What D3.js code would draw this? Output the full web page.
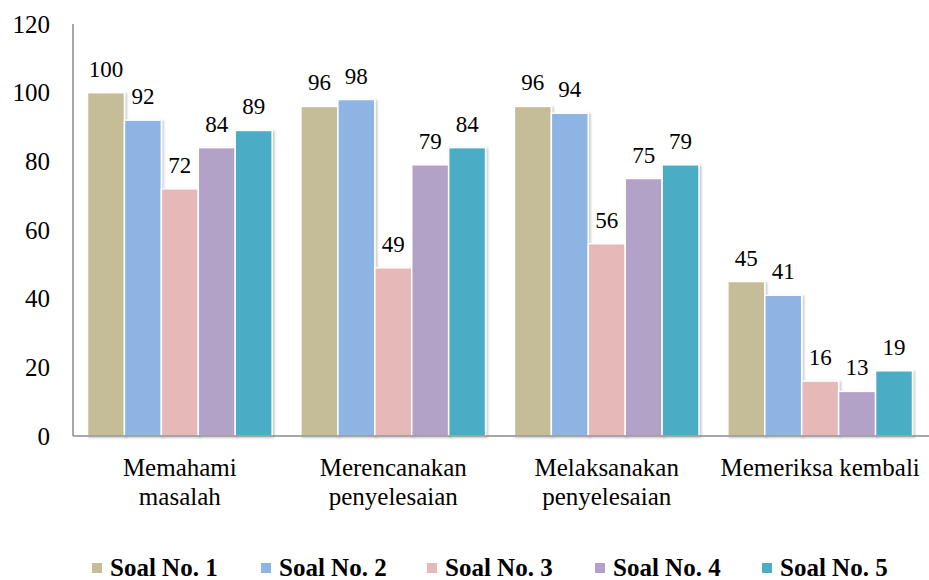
<!DOCTYPE html>
<html><head><meta charset="utf-8">
<script src="https://cdn.jsdelivr.net/npm/d3@7"></script>
<style>
body{margin:0;background:#fff}
svg{display:block}
</style>
</head><body>
<svg id="c" width="929" height="580"></svg>
<script>
const categories = [["Memahami","masalah"],["Merencanakan","penyelesaian"],["Melaksanakan","penyelesaian"],["Memeriksa kembali"]];
const seriesNames = ["Soal No. 1","Soal No. 2","Soal No. 3","Soal No. 4","Soal No. 5"];
const soal1 = [100, 96, 96, 45];
const soal2 = [92, 98, 94, 41];
const soal3 = [72, 49, 56, 16];
const soal4 = [84, 79, 75, 13];
const soal5 = [89, 84, 79, 19];
const seriesValues = [soal1, soal2, soal3, soal4, soal5];
const yTicks = [0, 20, 40, 60, 80, 100, 120];
const colors = ["#C4BD97","#8EB4E3","#E6B9B8","#B3A2C7","#4BACC6"];

(function(){
const svg = d3.select("#c");
const FF = "Tinos, 'Liberation Serif', 'DejaVu Serif', serif";
const mLeft = 73, mRight = 927, mTop = 24, mBottom = 436;

const defs = svg.append("defs");
const f = defs.append("filter").attr("id","sh").attr("x","-20%").attr("y","-20%").attr("width","140%").attr("height","140%");
f.append("feDropShadow").attr("dx",1.5).attr("dy",1).attr("stdDeviation",1.2).attr("flood-color","#000").attr("flood-opacity",0.25);

const x0 = d3.scaleBand().domain(d3.range(categories.length)).range([mLeft, mRight]).paddingInner(0.135).paddingOuter(0.068);
const x1 = d3.scaleBand().domain(d3.range(seriesNames.length)).range([0, x0.bandwidth()]);
const y = d3.scaleLinear().domain([0,120]).range([mBottom, mTop]);

svg.append("g").selectAll("text").data(yTicks).join("text")
  .attr("x", 50).attr("y", d => y(d) + 8.5)
  .attr("text-anchor","end").attr("font-family",FF).attr("font-size",25).attr("fill","#000")
  .text(d => d);

const g = svg.append("g");
categories.forEach((c, ci) => {
  seriesValues.forEach((vals, si) => {
    const v = vals[ci];
    const bx = x0(ci) + x1(si);
    g.append("rect").attr("x", bx).attr("y", y(v)).attr("width", x1.bandwidth()).attr("height", y(0)-y(v))
      .attr("fill", colors[si]).attr("stroke","#fff").attr("stroke-width",1.5).attr("filter","url(#sh)");
    g.append("text").attr("x", bx + x1.bandwidth()/2).attr("y", y(v) - 16)
      .attr("text-anchor","middle").attr("font-family",FF).attr("font-size",23).attr("fill","#000").text(v);
  });
});

svg.append("line").attr("x1",mLeft).attr("x2",mLeft).attr("y1",mTop).attr("y2",mBottom).attr("stroke","#8a8a8a").attr("stroke-width",1.5);
svg.append("line").attr("x1",mLeft).attr("x2",929).attr("y1",mBottom).attr("y2",mBottom).attr("stroke","#8a8a8a").attr("stroke-width",1.5);

categories.forEach((lines, ci) => {
  lines.forEach((ln, li) => {
    svg.append("text").attr("x", x0(ci) + x0.bandwidth()/2).attr("y", 476 + li*29)
      .attr("text-anchor","middle").attr("font-family",FF).attr("font-size",25).attr("fill","#000").text(ln);
  });
});

const legX = [92, 261, 427, 595, 762];
seriesNames.forEach((n, i) => {
  svg.append("rect").attr("x", legX[i]).attr("y", 563).attr("width", 10).attr("height", 10).attr("fill", colors[i]);
  svg.append("text").attr("x", legX[i] + 18).attr("y", 576).attr("font-family",FF).attr("font-weight","bold")
    .attr("font-size",25).attr("fill","#000").text(n);
});
})();
</script>
</body></html>
